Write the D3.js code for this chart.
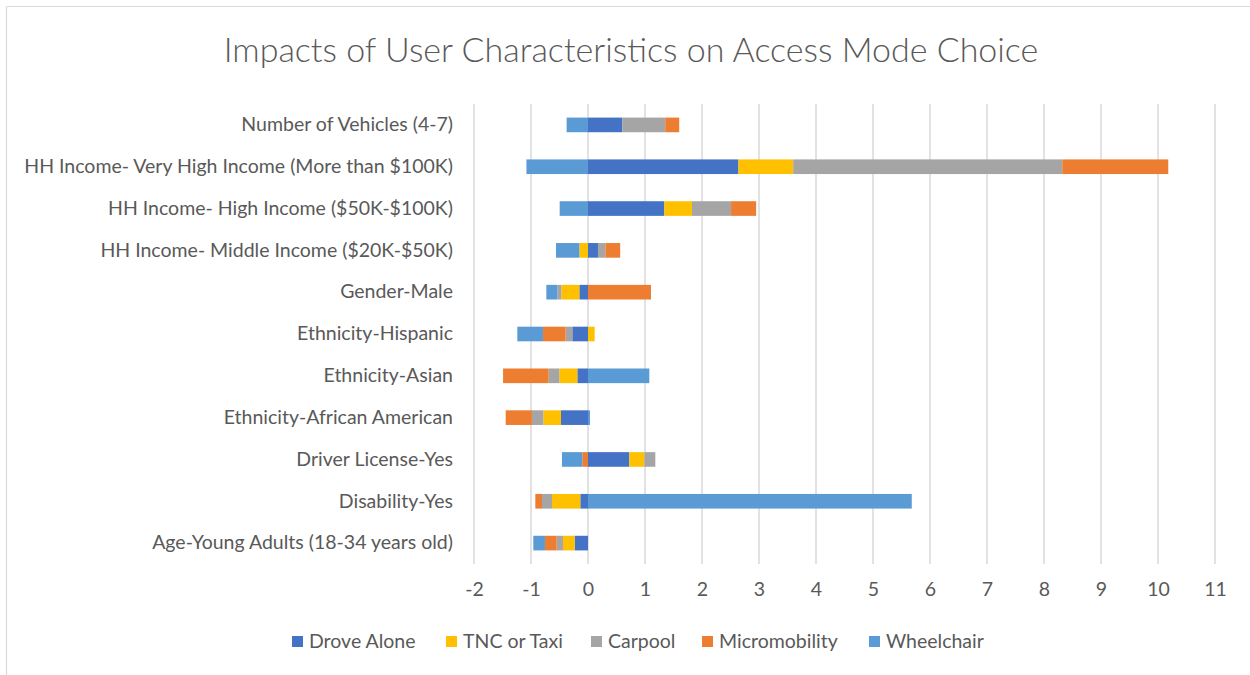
<!DOCTYPE html>
<html>
<head>
<meta charset="utf-8">
<script src="https://cdn.jsdelivr.net/npm/d3@7"></script>
<style>
  body { margin: 0; background: #fff; }
  text { font-family: Lato, "Open Sans", sans-serif; fill: #595959; }
</style>
</head>
<body>
<svg id="chart" width="1250" height="675"></svg>
<script>
var categories = [
  "Number of Vehicles (4-7)",
  "HH Income- Very High Income (More than $100K)",
  "HH Income- High Income ($50K-$100K)",
  "HH Income- Middle Income ($20K-$50K)",
  "Gender-Male",
  "Ethnicity-Hispanic",
  "Ethnicity-Asian",
  "Ethnicity-African American",
  "Driver License-Yes",
  "Disability-Yes",
  "Age-Young Adults (18-34 years old)"
];
var seriesNames = ["Drove Alone", "TNC or Taxi", "Carpool", "Micromobility", "Wheelchair"];
var droveAlone    = [0.60, 2.64, 1.34, 0.175, -0.152, -0.275, -0.187, -0.474, 0.725, -0.135, -0.234];
var tncTaxi       = [0, 0.96, 0.485, -0.152, -0.316, 0.117, -0.316, -0.31, 0.263, -0.497, -0.205];
var carpool       = [0.755, 4.72, 0.685, 0.13, -0.07, -0.117, -0.187, -0.2, 0.193, -0.175, -0.111];
var micromobility = [0.245, 1.86, 0.44, 0.26, 1.105, -0.398, -0.80, -0.46, -0.1, -0.117, -0.205];
var wheelchair    = [-0.375, -1.08, -0.497, -0.41, -0.193, -0.45, 1.076, 0.035, -0.357, 5.68, -0.205];
var xTicks = [-2, -1, 0, 1, 2, 3, 4, 5, 6, 7, 8, 9, 10, 11];
var colors = ["#4472C4", "#FFC000", "#A5A5A5", "#ED7D31", "#5B9BD5"];

var svg = d3.select("#chart");

// chart border (only top and left show in the picture)
svg.append("line").attr("x1", 6.5).attr("x2", 1250).attr("y1", 6.5).attr("y2", 6.5)
  .attr("stroke", "#d9d9d9").attr("stroke-width", 1.2);
svg.append("line").attr("x1", 6.5).attr("x2", 6.5).attr("y1", 6.5).attr("y2", 675)
  .attr("stroke", "#d9d9d9").attr("stroke-width", 1.2);

svg.append("text").attr("x", 631).attr("y", 62).attr("text-anchor", "middle")
  .style("font-size", "34px").style("font-weight", 300)
  .text("Impacts of User Characteristics on Access Mode Choice");

var x = d3.scaleLinear().domain([-2, 11]).range([474, 1215]);
var y = d3.scaleBand().domain(categories).range([104, 564]).paddingInner(0.65).paddingOuter(0.325);

// table for the stack
var cols = [droveAlone, tncTaxi, carpool, micromobility, wheelchair];
var table = categories.map(function(c, i) {
  var row = { cat: c };
  seriesNames.forEach(function(s, j) { row[s] = cols[j][i]; });
  return row;
});
var stacked = d3.stack().keys(seriesNames).offset(d3.stackOffsetDiverging)(table);

// gridlines
svg.append("g").selectAll("line").data(xTicks).join("line")
  .attr("x1", function(d) { return x(d); }).attr("x2", function(d) { return x(d); })
  .attr("y1", 104).attr("y2", 564)
  .attr("stroke", "#d9d9d9").attr("stroke-width", 1.5);

// x axis labels
var xAxis = svg.append("g").attr("transform", "translate(0,564)")
  .call(d3.axisBottom(x).tickValues(xTicks).tickSize(0).tickPadding(18).tickFormat(function(d) { return String(d); }));
xAxis.select(".domain").remove();
xAxis.selectAll("text").style("font-size", "19.5px").attr("font-family", null);

// category labels
var yAxis = svg.append("g").attr("transform", "translate(470,0)")
  .call(d3.axisLeft(y).tickSize(0).tickPadding(17));
yAxis.select(".domain").remove();
yAxis.selectAll("text").style("font-size", "19.5px").attr("font-family", null);

// bars
svg.append("g").selectAll("g").data(stacked).join("g")
  .attr("fill", function(d, i) { return colors[i]; })
  .selectAll("rect").data(function(d) { return d; }).join("rect")
  .attr("x", function(d) { return x(Math.min(d[0], d[1])); })
  .attr("width", function(d) { return Math.abs(x(d[1]) - x(d[0])); })
  .attr("y", function(d) { return y(d.data.cat); })
  .attr("height", y.bandwidth());

// legend
var legendX = [292, 446, 591, 702, 869];
var leg = svg.append("g").selectAll("g").data(seriesNames).join("g")
  .attr("transform", function(d, i) { return "translate(" + legendX[i] + ",636)"; });
leg.append("rect").attr("width", 11).attr("height", 11)
  .attr("fill", function(d, i) { return colors[i]; });
leg.append("text").attr("x", 17).attr("y", 12).style("font-size", "19.5px").text(function(d) { return d; });
</script>
</body>
</html>
